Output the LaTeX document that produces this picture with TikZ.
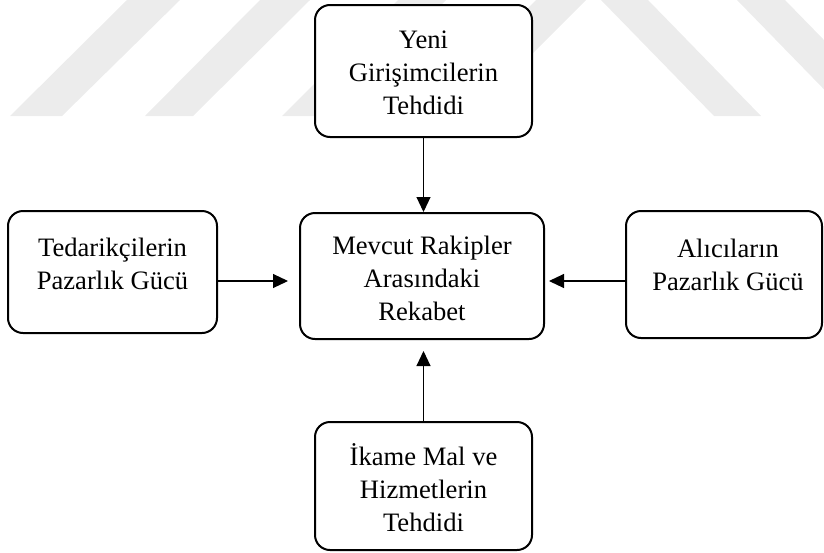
\documentclass[tikz,border=0pt]{standalone}
\usepackage{fontspec}
\setmainfont{Liberation Serif}
\usetikzlibrary{arrows.meta}
\definecolor{wm}{gray}{0.925}
\tikzset{
  box/.style={draw=black, line width=2pt, rounded corners=15pt, fill=white, inner sep=0pt},
  lbl/.style={inner sep=0pt, anchor=base, font=\fontsize{26.6}{33}\selectfont},
  arr/.style={line width=1.1pt, -{Triangle[length=15pt,width=14pt]}},
  wmark/.style={fill=wm, draw=none},
}
\begin{document}
\begin{tikzpicture}[x=1pt,y=-1pt]
\useasboundingbox (0,0) rectangle (824,552);
% faint watermark
\begin{scope}
\clip (0,0) rectangle (824,552);
\fill[wmark] (10,116) -- (62,116) -- (180,0) -- (127,0) -- cycle;
\fill[wmark] (145,116) -- (193,116) -- (310,0) -- (260,0) -- cycle;
\fill[wmark] (282,116) -- (330,116) -- (446,0) -- (398,0) -- cycle;
\fill[wmark] (420,116) -- (470,116) -- (586,0) -- (536,0) -- cycle;
\fill[wmark] (601,0) -- (648,0) -- (761,116) -- (714,116) -- cycle;
\fill[wmark] (737,0) -- (785,0) -- (898,116) -- (850,116) -- cycle;
\end{scope}
% boxes
\node[box, minimum width=217pt, minimum height=132pt] (T) at (423.5,71) {};
\node[box, minimum width=209pt, minimum height=122pt] (L) at (112.5,272) {};
\node[box, minimum width=244pt, minimum height=126pt] (C) at (422,276) {};
\node[box, minimum width=196pt, minimum height=127pt] (R) at (724,274.5) {};
\node[box, minimum width=217pt, minimum height=128pt] (B) at (423.5,486) {};
% labels
\node[lbl] (tT) at (423.5,48) {\begin{tabular}[t]{@{}c@{}}Yeni\\Girişimcilerin\\Tehdidi\end{tabular}};
\node[lbl] (tL) at (112.5,256) {\begin{tabular}[t]{@{}c@{}}Tedarikçilerin\\Pazarlık Gücü\end{tabular}};
\node[lbl] (tC) at (422,254) {\begin{tabular}[t]{@{}c@{}}Mevcut Rakipler\\Arasındaki\\Rekabet\end{tabular}};
\node[lbl] (tR) at (728,257) {\begin{tabular}[t]{@{}c@{}}Alıcıların\\Pazarlık Gücü\end{tabular}};
\node[lbl] (tB) at (423.5,465) {\begin{tabular}[t]{@{}c@{}}İkame Mal ve\\Hizmetlerin\\Tehdidi\end{tabular}};
% connectors
\coordinate (ylev) at (0,281);
\draw[arr] (T.south) -- (T.south |- C.north);
\draw[arr, shorten >=11pt] (L.east |- ylev) -- (C.west |- ylev);
\draw[arr, shorten >=4pt] (R.west |- ylev) -- (C.east |- ylev);
\draw[arr, shorten >=11pt] (B.north) -- (B.north |- C.south);
\end{tikzpicture}
\end{document}
